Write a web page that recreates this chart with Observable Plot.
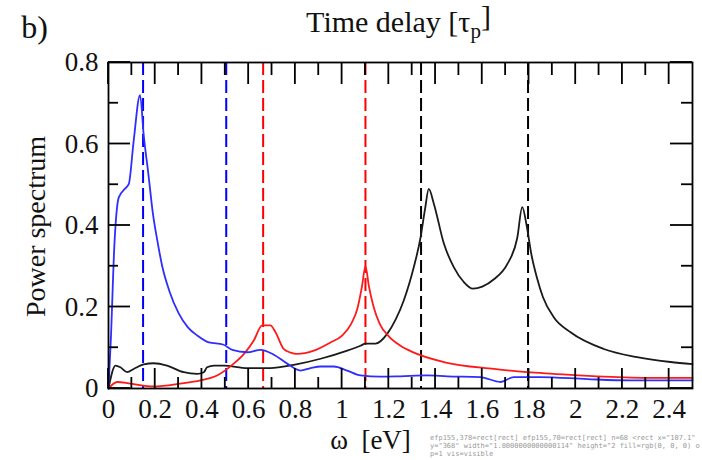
<!DOCTYPE html>
<html><head><meta charset="utf-8">
<script src="https://cdn.jsdelivr.net/npm/d3@7"></script>
<script src="https://cdn.jsdelivr.net/npm/@observablehq/plot@0.6"></script>
<style>body{margin:0;background:#fff} svg{display:block} #diag{position:absolute;left:430px;top:434px;width:272px;font:7px monospace;white-space:pre-wrap;word-break:break-all;color:#999}</style>
</head><body><div id="chart"></div><div id="diag"></div>
<script>
// ---- data ----
const blueOmega = [0, 0.01, 0.025, 0.044, 0.07, 0.087, 0.108, 0.135, 0.151, 0.17, 0.19, 0.21, 0.23, 0.26, 0.30, 0.34, 0.38, 0.43, 0.49, 0.53, 0.594, 0.651, 0.708, 0.765, 0.822, 0.865, 0.908, 0.965, 1.022, 1.079, 1.164, 1.25, 1.364, 1.45, 1.592, 1.678, 1.735, 1.849, 2.05, 2.235, 2.5];
const bluePower = [0, 0.12, 0.35, 0.469, 0.49, 0.502, 0.609, 0.72, 0.62, 0.53, 0.43, 0.36, 0.30, 0.24, 0.185, 0.15, 0.13, 0.113, 0.108, 0.095, 0.089, 0.095, 0.083, 0.061, 0.044, 0.05, 0.054, 0.054, 0.044, 0.032, 0.029, 0.03, 0.032, 0.03, 0.028, 0.016, 0.028, 0.028, 0.023, 0.02, 0.02];

const redOmega = [0, 0.037, 0.094, 0.194, 0.308, 0.394, 0.465, 0.536, 0.58, 0.622, 0.658, 0.693, 0.715, 0.75, 0.78, 0.808, 0.879, 0.95, 1.0, 1.04, 1.065, 1.085, 1.1, 1.115, 1.135, 1.16, 1.2, 1.25, 1.3, 1.435, 1.65, 1.792, 1.906, 2.12, 2.33, 2.5];
const redPower = [0, 0.016, 0.012, 0.005, 0.012, 0.02, 0.032, 0.061, 0.085, 0.118, 0.155, 0.155, 0.138, 0.097, 0.088, 0.085, 0.093, 0.113, 0.13, 0.16, 0.195, 0.25, 0.30, 0.25, 0.2, 0.16, 0.128, 0.105, 0.09, 0.065, 0.048, 0.04, 0.036, 0.029, 0.026, 0.026];

const blackOmega = [0, 0.03, 0.051, 0.08, 0.108, 0.151, 0.194, 0.251, 0.322, 0.38, 0.408, 0.422, 0.451, 0.494, 0.594, 0.693, 0.793, 0.908, 1.022, 1.079, 1.1, 1.143, 1.193, 1.23, 1.264, 1.307, 1.334, 1.355, 1.371, 1.393, 1.436, 1.478, 1.52, 1.56, 1.6, 1.65, 1.707, 1.75, 1.771, 1.79, 1.81, 1.835, 1.86, 1.906, 1.978, 2.12, 2.263, 2.406, 2.5];
const blackPower = [0, 0.056, 0.052, 0.04, 0.048, 0.059, 0.062, 0.056, 0.04, 0.036, 0.04, 0.052, 0.056, 0.056, 0.05, 0.05, 0.058, 0.073, 0.093, 0.105, 0.11, 0.11, 0.134, 0.17, 0.216, 0.298, 0.365, 0.44, 0.49, 0.453, 0.355, 0.298, 0.262, 0.245, 0.25, 0.268, 0.305, 0.37, 0.445, 0.4, 0.33, 0.27, 0.224, 0.175, 0.138, 0.097, 0.077, 0.065, 0.06];

const blueMarkers = [0.148, 0.504];
const redMarkers = [0.662, 1.10];
const blackMarkers = [1.338, 1.796];

const xMajorTicks = [0, 0.2, 0.4, 0.6, 0.8, 1, 1.2, 1.4, 1.6, 1.8, 2, 2.2, 2.4];
const xMinorTicks = [0.1, 0.3, 0.5, 0.7, 0.9, 1.1, 1.3, 1.5, 1.7, 1.9, 2.1, 2.3];
const yMajorTicks = [0, 0.2, 0.4, 0.6, 0.8];
const yMinorTicks = [0.1, 0.3, 0.5, 0.7];

const titleText = "Time delay [τp]";
const xLabel = "ω  [eV]";
const yLabel = "Power spectrum";
const panelLabel = "b)";

// ---- build ----
const toRows = (xs, ys) => xs.map((w, i) => ({w, p: ys[i]}));
const blue = toRows(blueOmega, bluePower);
const red = toRows(redOmega, redPower);
const black = toRows(blackOmega, blackPower);

const W = 702, H = 460, mL = 108, mR = 10, mT = 62, mB = 72;
const innerW = W - mL - mR, innerH = H - mT - mB;
const xDomain = [0, 2.5], yDomain = [0, 0.8];
const xPerPx = (xDomain[1] - xDomain[0]) / innerW;
const yPerPx = (yDomain[1] - yDomain[0]) / innerH;
const font = "'Liberation Serif', 'Times New Roman', serif";
const fmt = d => String(+d.toFixed(1));
const dash = "13,5";
const half = 0.9; // half tick thickness, px

// inward ticks as thin filled rectangles (length and thickness in pixels, via scale extent)
const vRects = (ticks, y0, px, dir) => ticks.map(t => ({x1: t - half * xPerPx, x2: t + half * xPerPx, y1: y0, y2: y0 + dir * px * yPerPx}));
const hRects = (ticks, x0, px, dir) => ticks.map(t => ({y1: t - half * yPerPx, y2: t + half * yPerPx, x1: x0, x2: x0 + dir * px * xPerPx}));
const tickRects = [
  ...vRects(xMajorTicks, yDomain[0], 20, 1),
  ...vRects(xMinorTicks, yDomain[0], 11, 1),
  ...vRects(xMajorTicks, yDomain[1], 22, -1),
  ...vRects(xMinorTicks, yDomain[1], 13, -1),
  ...hRects(yMajorTicks, xDomain[0], 22, 1),
  ...hRects(yMinorTicks, xDomain[0], 10, 1),
  ...hRects(yMajorTicks, xDomain[1], 22, -1),
  ...hRects(yMinorTicks, xDomain[1], 11, -1)
];

const chart = Plot.plot({
  width: W, height: H,
  marginLeft: mL, marginRight: mR, marginTop: mT, marginBottom: mB,
  style: {fontFamily: font, background: "#fff"},
  x: {domain: xDomain},
  y: {domain: yDomain},
  marks: [
    Plot.ruleX(blueMarkers, {x: d => d, stroke: "#0000ff", strokeWidth: 2, strokeDasharray: dash}),
    Plot.ruleX(redMarkers, {x: d => d, stroke: "#ff0000", strokeWidth: 2, strokeDasharray: dash}),
    Plot.ruleX(blackMarkers, {x: d => d, stroke: "#000", strokeWidth: 2, strokeDasharray: dash}),
    Plot.line(black, {x: "w", y: "p", stroke: "#1a1a1a", strokeWidth: 1.8, curve: "monotone-x"}),
    Plot.line(red, {x: "w", y: "p", stroke: "#ff1a1a", strokeWidth: 1.8, curve: "monotone-x"}),
    Plot.line(blue, {x: "w", y: "p", stroke: "#2e2eff", strokeWidth: 1.8, curve: "monotone-x"}),
    Plot.rect(tickRects, {x1: "x1", x2: "x2", y1: "y1", y2: "y2", fill: "#000"}),
    Plot.frame({stroke: "#000", strokeWidth: 1.8}),
    Plot.axisX({ticks: xMajorTicks, tickSize: 0, tickPadding: 10, tickFormat: fmt, fontSize: 27, fontFamily: font, fill: "#111", label: null}),
    Plot.axisY({ticks: yMajorTicks, tickSize: 0, tickPadding: 10, tickFormat: fmt, fontSize: 27, fontFamily: font, fill: "#111", label: null}),
    Plot.text([xLabel], {text: d => d, frameAnchor: "bottom", lineAnchor: "middle", textAnchor: "middle", dx: -30, dy: 52, fontSize: 27, fontFamily: font, fill: "#111"}),
    Plot.text([yLabel], {text: d => d, frameAnchor: "left", lineAnchor: "middle", textAnchor: "middle", rotate: -90, dx: -72, dy: 1, fontSize: 28, fontFamily: font, fill: "#111"}),
    Plot.text([titleText], {text: d => d, frameAnchor: "top", lineAnchor: "middle", textAnchor: "middle", dx: -2, dy: -40, fontSize: 30, fontFamily: font, fill: "#111"}),
    Plot.text([panelLabel], {text: d => d, frameAnchor: "top-left", lineAnchor: "middle", textAnchor: "middle", dx: -74, dy: -35, fontSize: 32, fontFamily: font, fill: "#111"})
  ]
});

// subscript p in the title
d3.select(chart).selectAll("text").each(function() {
  const t = d3.select(this);
  if (t.text() === titleText) {
    t.text("Time delay [τ");
    t.append("tspan").attr("font-size", "21px").attr("dy", "0.3em").text("p");
    t.append("tspan").attr("dy", "-0.42em").text("]");
  }
});

document.getElementById("chart").appendChild(chart);

// tiny diagnostic
let dg = "";
try {
  const desc = el => el ? el.tagName + "[" + ((el.closest && el.closest("g[aria-label]")) ? el.closest("g[aria-label]").getAttribute("aria-label") : (el.getAttribute && el.getAttribute("aria-label"))) + "]" : "null";
  dg += "efp155,378=" + desc(document.elementFromPoint(155, 378)) + " efp155,70=" + desc(document.elementFromPoint(155, 70));
  const rg = chart.querySelector('g[aria-label="rect"]');
  if (rg) { const r0 = rg.children[0]; const cs = getComputedStyle(r0); dg += " n=" + rg.children.length + " " + r0.outerHTML.slice(0, 60) + " fill=" + cs.fill + " op=" + cs.opacity + " vis=" + cs.visibility; }
} catch (e) { dg += "ERR " + e; }
document.getElementById("diag").textContent = dg;
</script>
</body></html>
